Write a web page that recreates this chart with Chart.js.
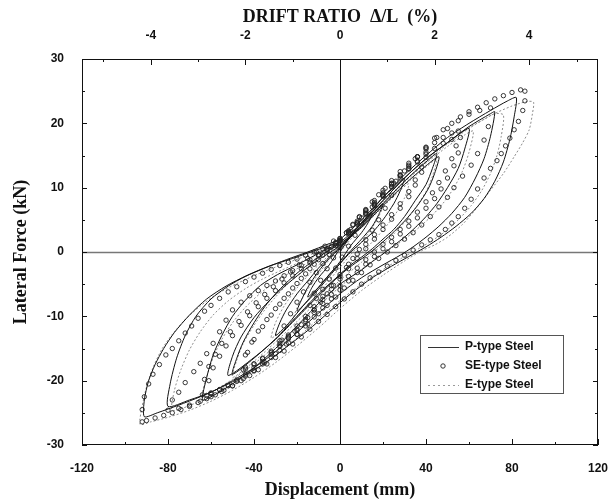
<!DOCTYPE html>
<html>
<head>
<meta charset="utf-8">
<script src="https://cdn.jsdelivr.net/npm/chart.js"></script>
<style>
  body { margin: 0; background: #fff; }
  #wrap { width: 609px; height: 502px; }
</style>
</head>
<body>
<div id="wrap"><canvas id="hysChart" width="609" height="502"></canvas></div>
<script>
// tick values
const dispTicks = [-120, -80, -40, 0, 40, 80, 120];
const dispMinor = [-100, -60, -20, 20, 60, 100];
const forceTicks = [-30, -20, -10, 0, 10, 20, 30];
const forceMinor = [-25, -15, -5, 5, 15, 25];
const driftTicks = [-4, -2, 0, 2, 4];
const driftMinor = [-5, -3, -1, 1, 3, 5];
const mmPerDrift = 22; // 1 % drift ~ 22 mm

const seriesNames = ['P-type Steel', 'SE-type Steel', 'E-type Steel'];

// [displacement mm, force kN], cycle after cycle
const pType = [
  [0,0],[5,2.5],[10,4.5],[15,6],[13,4.5],[10,3],[5,1],[0,-1.5],[-5,-3.5],[-10,-5.5],[-15,-7],[-13,-5.5],[-10,-4],[-5,-2],[0,0.5],
  [5,2.3],[10,4.2],[15,6],[20,7.5],[18,5.8],[15,4],[10,2],[5,0.2],[0,-1.8],[-5,-3.8],[-10,-5.8],[-15,-7.6],[-20,-9.2],[-18,-7.5],[-15,-5.5],[-10,-3],[-5,-1],[0,0.6],
  [5,2.5],[10,4.5],[15,6.5],[20,8.5],[25,10],[30,11.5],[28,9.5],[25,7.5],[20,5],[15,3],[10,1.5],[5,0],[0,-1.8],[-5,-3.5],[-10,-5.5],[-15,-7.5],[-20,-9.5],[-25,-11.5],[-30,-13],[-28,-11],[-25,-9],[-20,-6.5],[-15,-4.5],[-10,-2.5],[-5,-0.8],[0,0.8],
  [10,4],[20,7.5],[30,11],[40,14],[45,15.3],[43,13],[40,10.5],[35,8],[30,5.5],[25,3.5],[20,2],[15,0.5],[10,-0.8],[5,-2],[0,-3.5],[-10,-6.5],[-20,-10],[-30,-13.5],[-40,-16.5],[-50,-19],[-48,-16.5],[-45,-14],[-40,-11],[-35,-8.5],[-30,-6.5],[-25,-4.8],[-20,-3.3],[-15,-2],[-10,-0.8],[-5,0.3],[0,1.3],
  [10,3.8],[20,7.2],[30,10.5],[40,13.4],[46,14.8],[44,12.2],[41,9.8],[36,7.2],[30,4.8],[24,2.8],[18,1],[12,-0.6],[6,-2],[0,-3.6],[-10,-6.8],[-20,-10.2],[-30,-13.6],[-40,-16.4],[-52,-19.2],[-50,-16.2],[-46,-13.2],[-40,-10.2],[-33,-7.6],[-26,-5.4],[-18,-3.2],[-10,-1.2],[0,1],
  [10,4.5],[20,8],[30,11.5],[40,14.5],[50,17],[60,19.2],[58,16],[55,13],[50,10],[45,7.5],[40,5.5],[35,3.8],[30,2.3],[25,1],[20,-0.3],[15,-1.5],[10,-2.8],[0,-5],[-10,-8],[-20,-11.5],[-30,-15],[-40,-18],[-50,-20.5],[-60,-22.5],[-64,-23],[-62,-19.5],[-59,-16],[-55,-13],[-50,-10],[-44,-7.5],[-37,-5.2],[-29,-3.5],[-20,-2],[-10,-0.2],[0,1.5],
  [10,4.5],[20,8],[30,11.5],[40,14.5],[50,17],[60,19.5],[70,21.5],[72,21.8],[70,18],[67,14.5],[63,11.5],[58,8.5],[52,6],[46,4],[40,2.3],[34,0.8],[28,-0.5],[20,-2],[10,-4],[0,-6.5],[-10,-9.5],[-20,-12.5],[-30,-15.5],[-40,-18],[-50,-20],[-60,-21.8],[-70,-23],[-80,-24],[-79,-20.5],[-76,-16.5],[-72,-13],[-67,-10],[-60,-7.3],[-52,-5.3],[-44,-3.8],[-35,-2.5],[-25,-1.2],[-15,0],[-5,1.3],[0,2],
  [10,5],[20,8.5],[30,12],[40,15],[50,17.8],[60,20],[70,22],[78,23.5],[82,24],[81,21],[79,17.5],[76,14],[72,11],[67,8.3],[61,6],[54,4],[47,2.3],[40,0.8],[32,-0.7],[24,-2.2],[15,-4],[5,-6.5],[-5,-9.3],[-15,-12.2],[-25,-14.8],[-35,-17.3],[-45,-19.3],[-55,-21],[-65,-22.5],[-75,-23.8],[-85,-25],[-91,-25.6],[-91,-23],[-89,-20],[-86,-17.5],[-82,-15],[-77,-12.5],[-70,-9.8],[-62,-7.3],[-53,-5.3],[-43,-3.6],[-33,-2.2],[-22,-1],[-11,0.3],[0,1.5]
];

const seType = [
  [3,3],[6,4.3],[9,5.5],[12,6.5],[10,4.5],[7,2.6],[4,0.9],[1,-0.8],[-2,-2.5],[-5,-4.2],[-8,-5.8],[-11,-7.2],[-14,-8.3],[-12,-6.4],[-9,-4.4],[-6,-2.6],[-3,-0.9],[0,0.8],
  [3,3],[6,4.2],[9,5.4],[12,6.6],[15,7.8],[18,8.9],[21,9.9],[24,10.7],[26,11],[24,8.8],[21,6.8],[18,5],[15,3.4],[12,1.9],[9,0.4],[6,-1],[3,-2.4],[0,-3.8],[-3,-5.2],[-6,-6.5],[-9,-7.8],[-12,-9],[-15,-10.2],[-18,-11.3],[-21,-12.3],[-24,-13.1],[-27,-13.7],[-28,-13.8],[-26,-11.5],[-23,-9.6],[-20,-7.8],[-17,-6.2],[-14,-4.7],[-11,-3.2],[-8,-1.8],[-5,-0.4],[-2,1],[0,1.8],
  [4,3.2],[8,4.8],[12,6.4],[16,8],[20,9.6],[24,11.1],[28,12.5],[32,13.8],[36,14.8],[40,15.5],[38,13.2],[35,11.2],[32,9.4],[28,7.5],[24,5.8],[20,4.2],[16,2.7],[12,1.2],[8,-0.3],[4,-1.9],[0,-3.5],[-4,-5.2],[-8,-6.9],[-12,-8.5],[-16,-10],[-20,-11.5],[-24,-12.9],[-28,-14.2],[-32,-15.4],[-36,-16.5],[-40,-17.4],[-44,-18.2],[-45,-18.3],[-44,-16],[-41,-14],[-38,-12.3],[-34,-10.5],[-30,-8.8],[-26,-7.2],[-22,-5.6],[-18,-4.1],[-14,-2.6],[-10,-1.2],[-6,0.2],[-2,1.5],[0,2.1],
  [4,3],[8,4.6],[12,6.2],[16,7.7],[20,9.2],[24,10.6],[28,11.9],[32,13],[36,14],[40,14.7],[38,12.4],[35,10.4],[32,8.6],[28,6.8],[24,5.1],[20,3.5],[16,2],[12,0.5],[8,-1],[4,-2.6],[0,-4.2],[-4,-5.8],[-8,-7.4],[-12,-9],[-16,-10.5],[-20,-12],[-24,-13.3],[-28,-14.5],[-32,-15.6],[-36,-16.6],[-40,-17.4],[-44,-17.9],[-43,-15.6],[-40,-13.6],[-36,-11.6],[-32,-9.8],[-28,-8.1],[-24,-6.5],[-20,-4.9],[-16,-3.4],[-12,-1.9],[-8,-0.5],[-4,0.8],[0,1.9],
  [4,3],[8,4.5],[12,6],[16,7.5],[20,9],[24,10.5],[28,12],[32,13.5],[36,14.8],[40,16],[44,17],[48,17.8],[52,18.5],[55,18.8],[54,16.5],[52,14.5],[49,12.6],[46,10.8],[43,9.2],[40,7.8],[36,6.2],[32,4.8],[28,3.5],[24,2.3],[20,1.2],[16,0],[12,-1.2],[8,-2.5],[4,-3.8],[0,-5.2],[-4,-6.6],[-8,-8],[-12,-9.4],[-16,-10.8],[-20,-12.2],[-24,-13.5],[-28,-14.7],[-32,-15.9],[-36,-17],[-40,-18],[-44,-19],[-48,-19.9],[-52,-20.7],[-56,-21.4],[-60,-22],[-62,-22.3],[-61,-20],[-59,-18],[-56,-16.2],[-53,-14.6],[-50,-13],[-46,-11.4],[-42,-9.9],[-38,-8.5],[-34,-7.2],[-30,-6],[-26,-4.8],[-22,-3.7],[-18,-2.6],[-14,-1.6],[-10,-0.6],[-6,0.4],[-2,1.3],[0,1.8],
  [4,2.8],[8,4.3],[12,5.8],[16,7.2],[20,8.7],[24,10.1],[28,11.5],[32,12.9],[36,14.1],[40,15.2],[44,16.1],[48,16.9],[52,17.5],[56,17.8],[55,15.4],[53,13.4],[50,11.5],[47,9.8],[44,8.3],[40,6.8],[36,5.3],[32,4],[28,2.8],[24,1.6],[20,0.5],[16,-0.7],[12,-1.9],[8,-3.2],[4,-4.5],[0,-5.9],[-4,-7.3],[-8,-8.7],[-12,-10.1],[-16,-11.5],[-20,-12.8],[-24,-14.1],[-28,-15.3],[-32,-16.4],[-36,-17.4],[-40,-18.4],[-44,-19.3],[-48,-20.1],[-52,-20.8],[-56,-21.4],[-60,-21.9],[-64,-22.2],[-63,-19.8],[-61,-17.8],[-58,-15.9],[-55,-14.2],[-51,-12.4],[-47,-10.8],[-43,-9.3],[-39,-7.9],[-35,-6.6],[-31,-5.4],[-27,-4.2],[-23,-3.1],[-19,-2],[-15,-1],[-11,0],[-7,0.9],[-3,1.7],[0,2.1],
  [5,3.5],[10,5.3],[15,7],[20,8.8],[25,10.7],[30,12.6],[35,14.5],[40,16.2],[45,17.8],[50,19.2],[55,20.4],[60,21.4],[65,22],[70,22.4],[69,19.5],[67,17.4],[64,15.3],[61,13.5],[57,11.8],[53,10],[50,8.5],[46,7],[42,5.5],[38,4.2],[34,3],[30,2],[26,1],[22,0],[18,-1],[14,-2],[10,-3.2],[6,-4.4],[2,-5.6],[-2,-7],[-6,-8.3],[-10,-9.6],[-15,-11.2],[-20,-12.8],[-25,-14.3],[-30,-15.8],[-35,-17.2],[-40,-18.5],[-45,-19.7],[-50,-20.8],[-55,-21.7],[-60,-22.5],[-65,-23.2],[-70,-23.8],[-75,-24.3],[-80,-24.6],[-78,-23],[-75,-21.8],[-72,-20.3],[-68,-18.6],[-65,-17.3],[-62,-15.8],[-59,-14.2],[-56,-12.4],[-53,-10.6],[-50,-9],[-46,-7.8],[-42,-6.8],[-38,-6],[-34,-5.2],[-30,-4.5],[-26,-3.7],[-22,-2.9],[-18,-2.1],[-14,-1.2],[-10,-0.4],[-6,0.5],[-2,1.3],[0,1.7],
  [4,3.3],[8,4.5],[12,6],[16,7.3],[20,8.7],[24,10.2],[28,11.8],[32,13.3],[36,14.8],[40,16.3],[44,17.7],[48,19],[52,20],[56,21],[60,21.8],[64,22.5],[68,23.2],[72,23.8],[76,24.3],[80,24.8],[84,25.2],[86,25],[86,23.5],[85,22],[83,20.3],[81,19],[79,17.7],[77,16.5],[75,15.3],[73,14.2],[70,13],[67,11.5],[64,9.8],[61,8.2],[58,6.8],[55,5.5],[52,4.5],[49,3.5],[46,2.7],[42,1.9],[38,1.1],[34,0.3],[30,-0.5],[26,-1.3],[22,-2.2],[18,-3.1],[14,-4],[10,-5],[6,-6.2],[2,-7.3],[-2,-8.5],[-6,-9.7],[-10,-10.8],[-14,-12],[-18,-13.2],[-22,-14.3],[-26,-15.4],[-30,-16.4],[-34,-17.4],[-38,-18.3],[-42,-19.2],[-46,-20],[-50,-20.8],[-54,-21.5],[-58,-22.2],[-62,-22.8],[-66,-23.4],[-70,-24],[-74,-24.5],[-78,-25],[-82,-25.4],[-86,-25.8],[-90,-26.2],[-92,-26.4],[-92,-24.5],[-91,-22.5],[-89,-20.5],[-87,-19],[-84,-17.5],[-81,-16],[-78,-15],[-75,-13.8],[-72,-12.6],[-69,-11.5],[-66,-10.3],[-63,-9.2],[-60,-8.3],[-56,-7.2],[-52,-6.2],[-48,-5.4],[-44,-4.6],[-40,-3.9],[-36,-3.3],[-32,-2.7],[-28,-2.1],[-24,-1.6],[-20,-1.1],[-16,-0.5],[-12,0],[-8,0.5],[-4,0.9],[0,1.3]
];

const eType = [
  [0,0],[5,2],[10,4],[15,5.8],[20,7.2],[18,5.5],[15,3.8],[10,1.6],[5,-0.4],[0,-2.4],[-5,-4.4],[-10,-6.5],[-15,-8.5],[-20,-10.2],[-22,-10.8],[-20,-8.7],[-15,-5.8],[-10,-3.4],[-5,-1.2],[0,0.8],
  [10,3.8],[20,7],[28,9.6],[32,10.6],[30,8.4],[26,6],[20,3.4],[14,1.2],[8,-0.8],[0,-3.4],[-10,-6.8],[-20,-10],[-28,-12.4],[-32,-13.4],[-30,-11],[-26,-8.4],[-20,-5.6],[-13,-3],[-6,-0.8],[0,0.9],
  [10,4],[20,7.3],[30,10.4],[40,13.2],[45,14.4],[43,11.8],[40,9.4],[35,6.8],[30,4.6],[25,2.8],[20,1.2],[15,-0.2],[10,-1.6],[0,-4.4],[-10,-7.5],[-20,-10.8],[-30,-14],[-40,-17],[-50,-19.5],[-48,-16.8],[-45,-14.2],[-40,-11.4],[-35,-9],[-30,-7],[-25,-5.2],[-20,-3.7],[-15,-2.3],[-10,-1],[-5,0.2],[0,1.2],
  [10,4],[20,7.5],[30,10.8],[40,13.8],[50,16.4],[58,18.2],[62,18.8],[60,15.5],[57,12.6],[53,10],[48,7.6],[42,5.4],[36,3.6],[30,2],[24,0.6],[16,-1.2],[8,-3.2],[0,-5.4],[-10,-8.4],[-20,-11.6],[-30,-14.6],[-40,-17.4],[-50,-19.8],[-58,-21.4],[-64,-22.4],[-62,-19.4],[-59,-16.4],[-55,-13.6],[-50,-11],[-44,-8.6],[-37,-6.4],[-29,-4.4],[-20,-2.6],[-10,-0.8],[0,1],
  [10,4],[20,7.6],[30,11],[40,14.2],[50,17],[60,19.3],[68,20.8],[72,21.5],[76,21.3],[75,18],[73,15],[70,12.2],[66,9.6],[61,7.2],[55,5],[49,3.2],[43,1.8],[37,0.6],[30,-0.7],[22,-2.3],[12,-4.5],[2,-7],[-8,-9.8],[-18,-12.8],[-28,-15.6],[-38,-18.2],[-48,-20.4],[-58,-22.2],[-68,-23.6],[-78,-24.6],[-77,-21.5],[-74,-18.3],[-70,-15.2],[-65,-12.4],[-59,-9.8],[-52,-7.6],[-44,-5.7],[-36,-4.2],[-27,-2.8],[-18,-1.5],[-9,-0.3],[0,0.8],
  [10,4.2],[20,7.7],[30,11],[40,14],[50,16.8],[60,19.2],[70,21.2],[80,22.7],[87,23.4],[90,23.3],[89.5,21.5],[88,19],[85,17],[81,14.8],[76,12.2],[70,9.6],[64,7],[57,4.3],[50,2.3],[44,1.1],[38,0.2],[30,-1.4],[20,-3.6],[10,-6],[0,-8.8],[-10,-11.8],[-20,-14.6],[-30,-17.2],[-40,-19.5],[-50,-21.5],[-60,-23.2],[-70,-24.6],[-80,-25.7],[-88,-26.4],[-93,-26.8],[-92,-24],[-90,-21],[-87,-18],[-83,-15.2],[-78,-12.8],[-72,-10.5],[-65,-8.4],[-57,-6.5],[-48,-4.9],[-38,-3.4],[-28,-2.1],[-18,-0.9],[-8,0.3],[0,1.2]
];

const toPts = arr => arr.map(([x, y]) => ({ x, y }));

const tickFont = { family: 'Liberation Sans', weight: 'bold', size: 12 };
const titleFont = { family: 'Liberation Serif', weight: 'bold', size: 18 };

// keep the plot box fixed: 82..596 across, 59..445 down
const fixX = h => s => { s.height = h; s.paddingLeft = 0; s.paddingRight = 11; };

// frame, zero lines, inward ticks, legend box
const framePlugin = {
  id: 'frame',
  beforeDatasetsDraw(chart) {
    const { ctx, chartArea: a, scales } = chart;
    ctx.save();
    ctx.strokeStyle = '#777';
    ctx.lineWidth = 1.6;
    const y0 = Math.round(scales.y.getPixelForValue(0)) + 0.5;
    ctx.beginPath(); ctx.moveTo(a.left, y0); ctx.lineTo(a.right, y0); ctx.stroke();
    ctx.strokeStyle = '#111';
    ctx.lineWidth = 1;
    const x0 = Math.round(scales.x.getPixelForValue(0)) + 0.5;
    ctx.beginPath(); ctx.moveTo(x0, a.top); ctx.lineTo(x0, a.bottom); ctx.stroke();
    ctx.restore();
  },
  afterDraw(chart) {
    const { ctx, chartArea: a, scales } = chart;
    ctx.save();
    ctx.strokeStyle = '#111';
    ctx.lineWidth = 1;
    ctx.strokeRect(a.left + 0.5, a.top + 0.5, a.right - a.left - 1, a.bottom - a.top - 1);
    const tick = (x1, y1, x2, y2) => { ctx.beginPath(); ctx.moveTo(x1, y1); ctx.lineTo(x2, y2); ctx.stroke(); };
    const yTicks = (vals, len) => vals.forEach(v => {
      const p = Math.round(scales.y.getPixelForValue(v)) + 0.5;
      tick(a.left, p, a.left + len, p);
      tick(a.right, p, a.right - len, p);
    });
    yTicks(forceTicks, 5); yTicks(forceMinor, 3);
    const xTicks = (vals, len) => vals.forEach(v => {
      const p = Math.round(scales.x.getPixelForValue(v)) + 0.5;
      tick(p, a.bottom, p, a.bottom - len);
    });
    xTicks(dispTicks, 6); xTicks(dispMinor, 3);
    const x2Ticks = (vals, len) => vals.forEach(v => {
      const p = Math.round(scales.x2.getPixelForValue(v)) + 0.5;
      tick(p, a.top, p, a.top + len);
    });
    x2Ticks(driftTicks, 6); x2Ticks(driftMinor, 3);

    // legend box
    const bx = 420, by = 335, bw = 143, bh = 58;
    ctx.strokeStyle = '#555';
    ctx.strokeRect(bx + 0.5, by + 0.5, bw, bh);
    ctx.font = 'bold 12px "Liberation Sans"';
    ctx.fillStyle = '#111';
    ctx.textBaseline = 'middle';
    const rows = [347, 366, 385];
    seriesNames.forEach((name, i) => ctx.fillText(name, 465, rows[i]));
    ctx.strokeStyle = '#333';
    tick(428, rows[0] + 0.5, 459, rows[0] + 0.5);
    ctx.beginPath(); ctx.arc(443, rows[1], 2.2, 0, Math.PI * 2); ctx.stroke();
    ctx.strokeStyle = '#999';
    ctx.setLineDash([2, 3]);
    tick(428, rows[2] + 0.5, 459, rows[2] + 0.5);
    ctx.restore();
  }
};

new Chart(document.getElementById('hysChart'), {
  type: 'scatter',
  data: {
    datasets: [
      {
        label: seriesNames[1],
        data: toPts(seType),
        showLine: false,
        pointRadius: 2.2,
        pointBorderWidth: 0.9,
        pointBorderColor: '#222',
        pointBackgroundColor: 'rgba(255,255,255,0)'
      },
      {
        label: seriesNames[0],
        data: toPts(pType),
        showLine: true,
        borderColor: '#111',
        borderWidth: 1,
        pointRadius: 0,
        tension: 0.25
      },
      {
        label: seriesNames[2],
        data: toPts(eType),
        showLine: true,
        borderColor: '#8c8c8c',
        borderWidth: 1,
        borderDash: [2, 2],
        pointRadius: 0,
        tension: 0.25
      }
    ]
  },
  options: {
    responsive: false,
    animation: false,
    layout: { padding: { right: 2 } },
    plugins: {
      legend: { display: false },
      tooltip: { enabled: false }
    },
    scales: {
      x: {
        type: 'linear',
        position: 'bottom',
        min: -120,
        max: 120,
        afterBuildTicks: ax => { ax.ticks = dispTicks.map(v => ({ value: v })); },
        afterFit: fixX(57),
        grid: { display: false },
        border: { display: false },
        ticks: { font: tickFont, color: '#111', padding: 8, maxRotation: 0 },
        title: { display: true, text: 'Displacement (mm)', font: titleFont, color: '#111', padding: { top: 0, bottom: 1 } }
      },
      x2: {
        type: 'linear',
        position: 'top',
        min: -120 / mmPerDrift,
        max: 120 / mmPerDrift,
        afterBuildTicks: ax => { ax.ticks = driftTicks.map(v => ({ value: v })); },
        afterFit: fixX(59),
        grid: { display: false },
        border: { display: false },
        ticks: { font: tickFont, color: '#111', padding: 8, maxRotation: 0 },
        title: { display: true, text: 'DRIFT RATIO  Δ/L  (%)', font: titleFont, color: '#111', padding: { top: 7, bottom: 0 } }
      },
      y: {
        type: 'linear',
        position: 'left',
        min: -30,
        max: 30,
        afterBuildTicks: ax => { ax.ticks = forceTicks.map(v => ({ value: v })); },
        afterFit: s => { s.width = 82; },
        grid: { display: false },
        border: { display: false },
        ticks: { font: tickFont, color: '#111', padding: 10 },
        title: { display: true, text: 'Lateral Force (kN)', font: titleFont, color: '#111', padding: { top: 11, bottom: 0 } }
      }
    }
  },
  plugins: [framePlugin]
});
</script>
</body>
</html>
